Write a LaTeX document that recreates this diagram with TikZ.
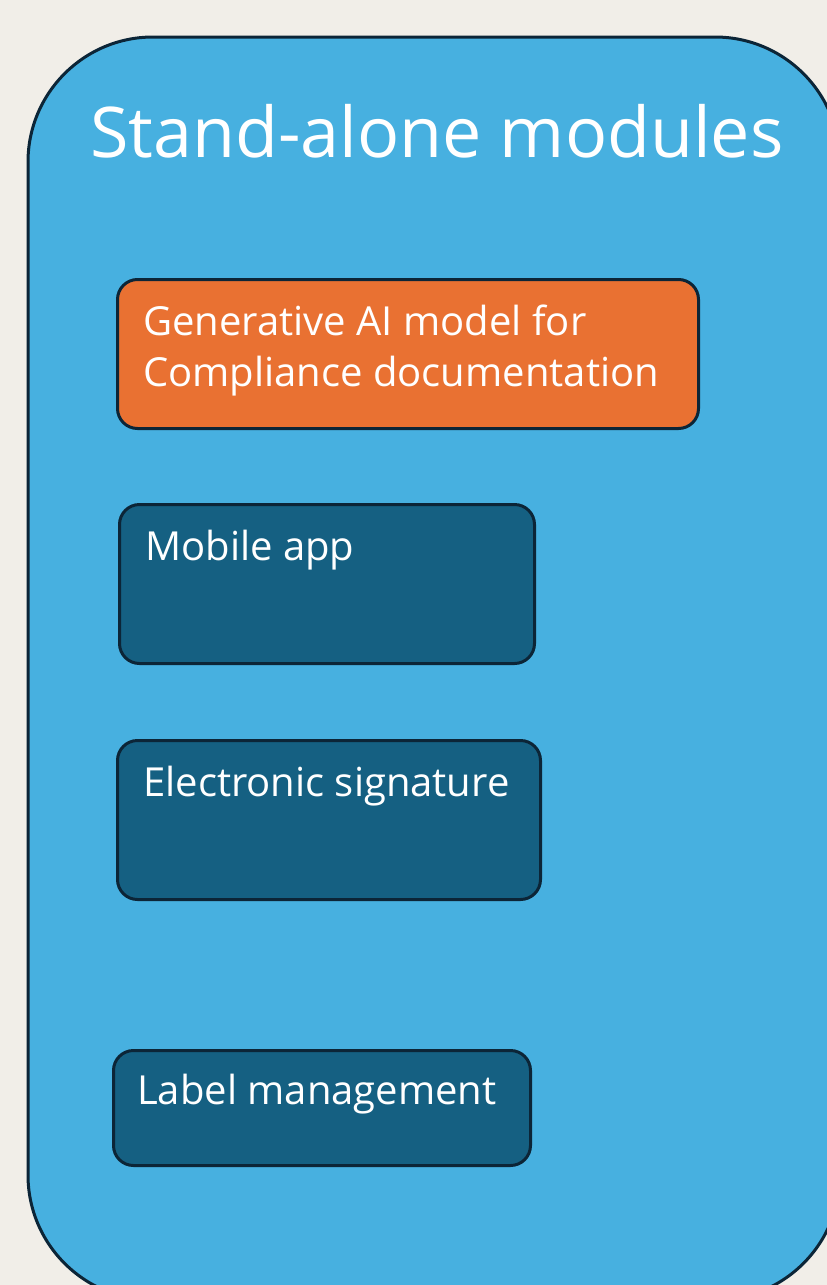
\documentclass[tikz,border=0pt]{standalone}
\usepackage{fontspec}
\setmainfont{Open Sans}
\definecolor{bgc}{HTML}{F1EEE8}
\definecolor{panelc}{HTML}{47B0E0}
\definecolor{edgec}{HTML}{0C2537}
\definecolor{orangec}{HTML}{E97132}
\definecolor{navyc}{HTML}{156082}
\begin{document}
\begin{tikzpicture}[x=1pt,y=1pt,
  panel/.style={draw=edgec, line width=3pt, fill=panelc, rounded corners=125pt},
  modbox/.style={draw=edgec, line width=3pt, rounded corners=20pt, anchor=north west, inner sep=0pt},
  title/.style={text=white, font=\fontsize{70}{84}\selectfont, anchor=base west, inner sep=0pt},
  modtxt/.style={text=white, font=\fontsize{40}{51}\selectfont, anchor=base west, inner sep=0pt}]
\fill[bgc] (0,0) rectangle (827,-1285);
\useasboundingbox (0,0) rectangle (827,-1285);
\begin{scope}
\clip (0,0) rectangle (827,-1285);
\draw[panel] (28,-37) rectangle (840,-1300);
\end{scope}
\node[title] (t) at (90,-157) {Stand-alone modules};
\node[modbox, fill=orangec, minimum width=581pt, minimum height=149pt] (gen) at (116,-278) {};
\node[modtxt] (gent1) at (143,-335) {Generative AI model for};
\node[modtxt] (gent2) at (143,-386) {Compliance documentation};
\node[modbox, fill=navyc, minimum width=415pt, minimum height=159pt] (mob) at (118,-503) {};
\node[modtxt] (mobt) at (145,-560) {Mobile app};
\node[modbox, fill=navyc, minimum width=423pt, minimum height=159pt] (esig) at (116,-739) {};
\node[modtxt] (esigt) at (143,-796) {Electronic signature};
\node[modbox, fill=navyc, minimum width=417pt, minimum height=115pt] (lab) at (112,-1049) {};
\node[modtxt] (labt) at (137,-1104) {Label management};
\end{tikzpicture}
\end{document}
